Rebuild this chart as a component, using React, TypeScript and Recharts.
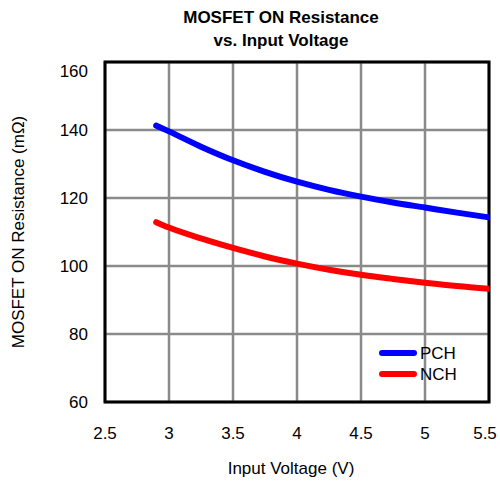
import React from 'react';
import {
  LineChart,
  Line,
  XAxis,
  YAxis,
  CartesianGrid,
  ReferenceArea,
  Label,
} from 'recharts';

const FONT = "Arial, 'Liberation Sans', Helvetica, sans-serif";

// Input voltage samples (V)
const voltage = [2.9, 3.0, 3.25, 3.5, 3.75, 4.0, 4.25, 4.5, 4.75, 5.0, 5.25, 5.5];
// P-channel ON resistance (mΩ)
const pch = [141.3, 139.6, 135.1, 131.1, 127.7, 124.8, 122.4, 120.4, 118.7, 117.2, 115.7, 114.3];
// N-channel ON resistance (mΩ)
const nch = [112.9, 111.3, 108.1, 105.3, 102.8, 100.7, 98.9, 97.4, 96.2, 95.1, 94.1, 93.3];

const xTicks = [2.5, 3, 3.5, 4, 4.5, 5, 5.5];
const yTicks = [60, 80, 100, 120, 140, 160];

const seriesNames = ['PCH', 'NCH'];
const seriesColors = ['#0000ff', '#ff0000'];

const rows = voltage.map((v, i) => ({ v, PCH: pch[i], NCH: nch[i] }));

const YTick = (props: any) => {
  const { x, y, payload } = props;
  const isTop = payload.value === yTicks[yTicks.length - 1];
  return (
    <text
      x={x}
      y={y + (isTop ? 9 : 0)}
      textAnchor="end"
      dominantBaseline="central"
      fontSize={17}
      fontFamily={FONT}
      fill="#000"
    >
      {payload.value}
    </text>
  );
};

const XTick = (props: any) => {
  const { x, y, payload } = props;
  const isLast = payload.value === xTicks[xTicks.length - 1];
  return (
    <text
      x={x + (isLast ? -4 : 0)}
      y={y}
      dy="0.71em"
      textAnchor="middle"
      fontSize={17}
      fontFamily={FONT}
      fill="#000"
    >
      {payload.value}
    </text>
  );
};

const LegendBox = () => (
  <svg
    width={110}
    height={50}
    style={{ position: 'absolute', left: 378, top: 342, overflow: 'visible' }}
  >
    {seriesNames.map((name, i) => (
      <g key={name}>
        <line
          x1={4}
          x2={36}
          y1={11 + i * 21}
          y2={11 + i * 21}
          stroke={seriesColors[i]}
          strokeWidth={6}
          strokeLinecap="round"
        />
        <text
          x={42}
          y={11 + i * 21}
          dominantBaseline="central"
          fontSize={17}
          fontFamily={FONT}
          fill="#000"
        >
          {name}
        </text>
      </g>
    ))}
  </svg>
);

export default function App() {
  return (
    <div style={{ position: 'absolute', left: 0, top: 0, width: 500, height: 483, background: '#fff' }}>
      <div
        style={{
          position: 'absolute',
          left: 181,
          width: 200,
          top: 6,
          textAlign: 'center',
          fontFamily: FONT,
          fontWeight: 'bold',
          fontSize: 17,
          lineHeight: '23px',
          color: '#000',
          whiteSpace: 'nowrap',
        }}
      >
        MOSFET ON Resistance
        <br />
        vs. Input Voltage
      </div>
      <LineChart
        width={500}
        height={483}
        data={rows}
        margin={{ top: 62, right: 11, bottom: 0, left: 0 }}
      >
        <CartesianGrid
          stroke="#8a8a8a"
          strokeWidth={2.5}
          horizontalValues={yTicks}
          verticalValues={xTicks}
        />
        <XAxis
          dataKey="v"
          type="number"
          domain={[2.5, 5.5]}
          ticks={xTicks}
          height={81}
          axisLine={false}
          tickLine={false}
          tickSize={0}
          tickMargin={25}
          tick={<XTick />}
          interval={0}
          allowDataOverflow
        >
          <Label
            content={({ viewBox }: any) => (
              <text
                x={291}
                y={viewBox.y + 66}
                textAnchor="middle"
                dominantBaseline="central"
                fontSize={17}
                fontFamily={FONT}
                fill="#000"
              >
                Input Voltage (V)
              </text>
            )}
          />
        </XAxis>
        <YAxis
          type="number"
          domain={[60, 160]}
          ticks={yTicks}
          width={105}
          axisLine={false}
          tickLine={false}
          tickSize={0}
          tickMargin={17}
          tick={<YTick />}
          interval={0}
          allowDataOverflow
        >
          <Label
            content={({ viewBox }: any) => {
              const cx = 18;
              const cy = viewBox.y + viewBox.height / 2;
              return (
                <text
                  x={cx}
                  y={cy}
                  transform={`rotate(-90 ${cx} ${cy})`}
                  textAnchor="middle"
                  dominantBaseline="central"
                  fontSize={17}
                  fontFamily={FONT}
                  fill="#000"
                >
                  MOSFET ON Resistance (mΩ)
                </text>
              );
            }}
          />
        </YAxis>
        <ReferenceArea
          x1={2.5}
          x2={5.5}
          y1={60}
          y2={160}
          fill="none"
          stroke="#000"
          strokeWidth={3}
          fillOpacity={0}
          ifOverflow="visible"
        />
        <Line
          dataKey="PCH"
          type="monotone"
          stroke={seriesColors[0]}
          strokeWidth={6}
          strokeLinecap="round"
          dot={false}
          isAnimationActive={false}
        />
        <Line
          dataKey="NCH"
          type="monotone"
          stroke={seriesColors[1]}
          strokeWidth={6}
          strokeLinecap="round"
          dot={false}
          isAnimationActive={false}
        />
      </LineChart>
      <LegendBox />
    </div>
  );
}
